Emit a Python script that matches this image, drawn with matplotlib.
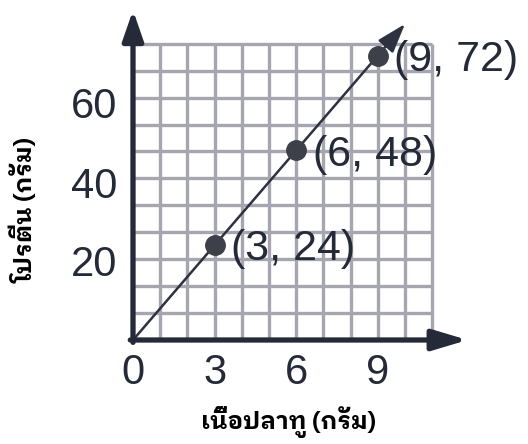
import matplotlib
matplotlib.use('Agg')
import matplotlib.pyplot as plt
import numpy as np

# ---- data ----
fish = [3, 6, 9]
protein = [24, 48, 72]
point_labels = ['(3, 24)', '(6, 48)', '(9, 72)']
x_ticks = [0, 3, 6, 9]
y_ticks = [20, 40, 60]
x_label = 'เนื้อปลาทู (กรัม)'
y_label = 'โปรตีน (กรัม)'

thai_fonts = ['IBM Plex Sans Thai Looped', 'Sarabun', 'DejaVu Sans']

fig = plt.figure(figsize=(5.28, 4.44), dpi=100)
ax = fig.add_axes([133/528, (444-340)/444, 340/528, 335.75/444])
ax.set_xlim(0, 12.5)
ax.set_ylim(0, 85)
for s in ax.spines.values():
    s.set_visible(False)

ink = '#252a38'
grid_c = '#a6a6b0'

# grid
ax.vlines(np.arange(1, 12), 0, 75, color=grid_c, lw=2.4, zorder=1)
ax.hlines(np.linspace(0, 75, 12)[1:], 0, 11, color=grid_c, lw=2.4, zorder=1)

# axes with arrows
ax.annotate('', xy=(0, 83.5), xytext=(0, -0.6),
            arrowprops=dict(arrowstyle='-|>,head_length=1.3,head_width=0.45',
                            lw=3.8, color=ink, mutation_scale=14,
                            shrinkA=0, shrinkB=0), annotation_clip=False, zorder=4)
ax.annotate('', xy=(12.3, 0), xytext=(-0.1, 0),
            arrowprops=dict(arrowstyle='-|>,head_length=1.5,head_width=0.45',
                            lw=3.8, color=ink, mutation_scale=14,
                            shrinkA=0, shrinkB=0), annotation_clip=False, zorder=4)

# proportional line with arrow
slope = protein[0] / fish[0]
tip_x = 10.0
ax.annotate('', xy=(tip_x, slope * tip_x), xytext=(0, 0),
            arrowprops=dict(arrowstyle='-|>,head_length=1.5,head_width=0.5',
                            lw=1.8, color='#2e3240', mutation_scale=12,
                            shrinkA=0, shrinkB=0), annotation_clip=False, zorder=3)

ax.plot(fish, protein, 'o', ms=14, color='#3d4049', zorder=5)
for xv, yv, lab in zip(fish, protein, point_labels):
    ax.annotate(lab, (xv, yv), xytext=(12, -3), textcoords='offset points',
                ha='left', va='center', fontsize=31, color=ink,
                family='Liberation Sans', zorder=6)

ax.set_xticks(x_ticks)
ax.set_yticks(y_ticks)
ax.set_xticklabels([str(t) for t in x_ticks], fontsize=30, color=ink, family='Liberation Sans')
ax.set_yticklabels([str(t) for t in y_ticks], fontsize=30, color=ink, family='Liberation Sans')
ax.tick_params(length=0, pad=9)
ax.tick_params(axis='y', pad=11)

fig.text(288/528, 1 - 422/444, x_label, ha='center', va='center', fontsize=17.5,
         fontweight='bold', family=thai_fonts, color='black')
fig.text(24/528, 1 - 210/444, y_label, ha='center', va='center', fontsize=17.5,
         fontweight='bold', family=thai_fonts, rotation=90, color='black')

fig.savefig('out.png', dpi=100)
